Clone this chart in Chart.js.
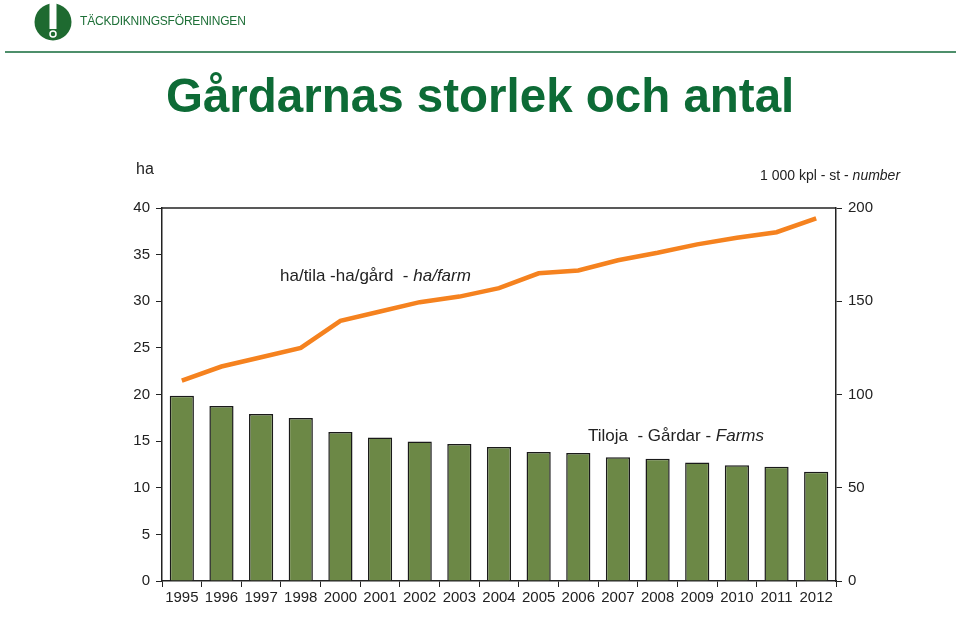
<!DOCTYPE html>
<html>
<head>
<meta charset="utf-8">
<script src="https://cdn.jsdelivr.net/npm/chart.js@4"></script>
<style>
  body { margin: 0; background: #fff; font-family: "Liberation Sans", Arial, sans-serif; }
  #wrap { position: relative; width: 960px; height: 617px; overflow: hidden; }
  #chart { position: absolute; left: 0; top: 0; }
  .txt { position: absolute; white-space: nowrap; color: #222; }
  .hdr { left: 80px; top: 14px; font-size: 12px; color: #1d6f37; letter-spacing: -0.2px; }
  .rule { position: absolute; left: 5px; top: 51px; width: 951px; height: 2px; background: #4e8f6b; }
  .title { left: 166px; top: 68px; font-size: 47.5px; font-weight: bold; color: #0d6b36; }
</style>
</head>
<body>
<div id="wrap">
  <canvas id="chart" width="960" height="617"></canvas>
  <svg style="position:absolute;left:34px;top:3px" width="38" height="38" viewBox="0 0 38 38">
    <circle cx="19" cy="19" r="18.5" fill="#1e6a30"/>
    <rect x="15.5" y="0" width="7" height="26" fill="#fff"/>
    <circle cx="19" cy="31" r="3" fill="none" stroke="#fff" stroke-width="1.5"/>
  </svg>
  <div class="txt hdr">TÄCKDIKNINGSFÖRENINGEN</div>
  <div class="rule"></div>
  <div class="txt title">Gårdarnas storlek och antal</div>
  <div class="txt" style="left:136px;top:160px;font-size:16px;">ha</div>
  <div class="txt" style="left:760px;top:167px;font-size:14px;">1 000 kpl - st - <i>number</i></div>
  <div class="txt" style="left:280px;top:266px;font-size:17px;">ha/tila -ha/gård&nbsp; - <i>ha/farm</i></div>
  <div class="txt" style="left:588px;top:426px;font-size:17px;">Tiloja&nbsp; - Gårdar - <i>Farms</i></div>
</div>
<script>
// years on the x axis (1999 is missing in the source)
const years = ['1995', '1996', '1997', '1998', '2000', '2001', '2002', '2003', '2004',
  '2005', '2006', '2007', '2008', '2009', '2010', '2011', '2012'];
// average farm size, ha (left axis)
const haPerFarm = [21.5, 23.0, 24.0, 25.0, 27.9, 28.9, 29.9, 30.5, 31.4,
  33.0, 33.3, 34.4, 35.2, 36.1, 36.8, 37.4, 38.9];
// number of farms, 1000 (right axis)
const farms = [99.3, 93.8, 89.5, 87.4, 79.9, 77.0, 74.8, 73.5, 71.9,
  69.2, 68.6, 66.3, 65.6, 63.6, 62.0, 61.3, 58.6];
const leftTicks = [0, 5, 10, 15, 20, 25, 30, 35, 40];
const rightTicks = [0, 50, 100, 150, 200];

const tickFont = { family: '"Liberation Sans", Arial, sans-serif', size: 15 };

// top border of the plot box
const topBorder = {
  id: 'topBorder',
  afterDraw(chart) {
    const a = chart.chartArea, ctx = chart.ctx;
    ctx.save();
    ctx.strokeStyle = '#222';
    ctx.lineWidth = 1.5;
    ctx.beginPath();
    ctx.moveTo(a.left, a.top);
    ctx.lineTo(a.right, a.top);
    ctx.stroke();
    ctx.restore();
  }
};

const ctx = document.getElementById('chart').getContext('2d');
new Chart(ctx, {
  data: {
    labels: years,
    datasets: [{
      type: 'line',
      label: 'ha/farm',
      data: haPerFarm,
      yAxisID: 'y',
      borderColor: '#f5821f',
      borderWidth: 4.5,
      pointRadius: 0,
      tension: 0,
      order: 0
    }, {
      type: 'bar',
      label: 'Farms',
      data: farms,
      yAxisID: 'y1',
      backgroundColor: '#6c8846',
      borderColor: '#1a1a1a',
      borderWidth: 1.5,
      barPercentage: 0.61,
      categoryPercentage: 1,
      order: 1
    }]
  },
  options: {
    responsive: false,
    animation: false,
    layout: { padding: { top: 208, left: 0, right: 0, bottom: 0 } },
    plugins: { legend: { display: false }, tooltip: { enabled: false } },
    scales: {
      x: {
        offset: true,
        grid: { offset: true, drawOnChartArea: false, drawTicks: true, tickLength: 6, color: '#222' },
        border: { display: true, color: '#222', width: 1.5 },
        ticks: { color: '#222', font: tickFont, padding: 2, maxRotation: 0, autoSkip: false },
        afterFit(s) { s.height = 36; }
      },
      y: {
        position: 'left',
        min: 0, max: 40,
        afterBuildTicks(s) { s.ticks = leftTicks.map(v => ({ value: v })); },
        grid: { drawOnChartArea: false, drawTicks: true, tickLength: 6, color: '#222' },
        border: { display: true, color: '#222', width: 1.5 },
        ticks: { color: '#222', font: tickFont, padding: 6 },
        afterFit(s) { s.width = 162; }
      },
      y1: {
        position: 'right',
        min: 0, max: 200,
        afterBuildTicks(s) { s.ticks = rightTicks.map(v => ({ value: v })); },
        grid: { drawOnChartArea: false, drawTicks: true, tickLength: 6, color: '#222' },
        border: { display: true, color: '#222', width: 1.5 },
        ticks: { color: '#222', font: tickFont, padding: 6 },
        afterFit(s) { s.width = 124; }
      }
    }
  },
  plugins: [topBorder]
});
</script>
</body>
</html>
